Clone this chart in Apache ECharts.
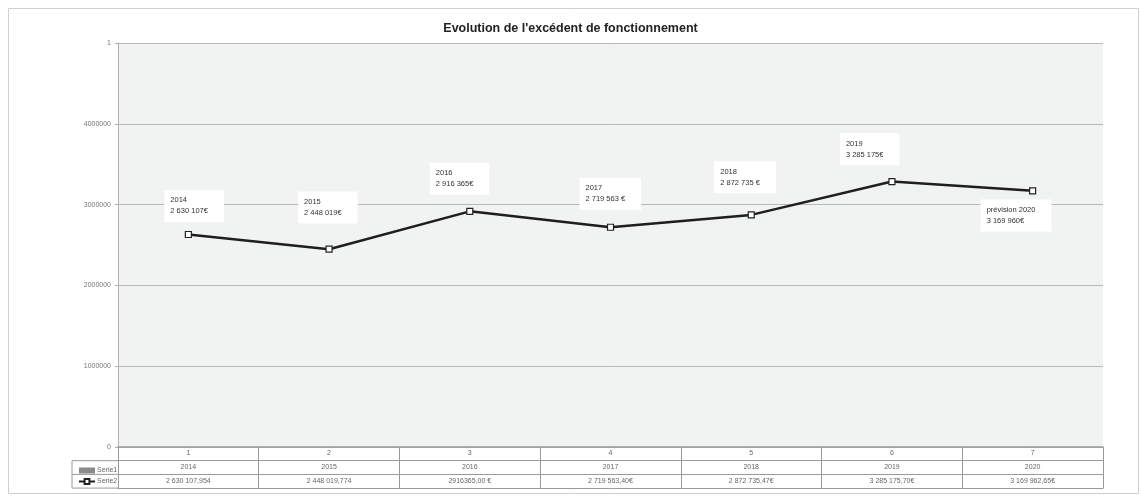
<!DOCTYPE html>
<html>
<head>
    <meta charset="utf-8">
    <title>Evolution de l'excédent de fonctionnement</title>
    <script src="https://cdn.jsdelivr.net/npm/echarts@6/dist/echarts.min.js"></script>
    <style>
        html, body { margin: 0; padding: 0; background: #fff; }
        #chart { width: 1141px; height: 498px; }
    </style>
</head>
<body>
<div id="chart"></div>
<script>
    // Données
    const categories = ['1', '2', '3', '4', '5', '6', '7'];
    const serie1 = [2014, 2015, 2016, 2017, 2018, 2019, 2020];
    const serie2 = [2630107.954, 2448019.774, 2916365.00, 2719563.40, 2872735.47, 3285175.70, 3169962.65];
    const serie2Table = ['2 630 107,954', '2 448 019,774', '2916365,00 €', '2 719 563,40€', '2 872 735,47€', '3 285 175,70€', '3 169 962,65€'];
    const pointLabels = [
        '2014\n2 630 107€',
        '2015\n2 448 019€',
        '2016\n2 916 365€',
        '2017\n2 719 563 €',
        '2018\n2 872 735 €',
        '2019\n3 285 175€',
        'prévision 2020\n3 169 960€'
    ];
    const yTickLabels = {0: '0', 1000000: '1000000', 2000000: '2000000', 3000000: '3000000', 4000000: '4000000', 5000000: '1'};

    const chart = echarts.init(document.getElementById('chart'));

    // placement des étiquettes (style)
    const labelPlace = [
        { position: 'top', offset: [-24, -9] },
        { position: 'top', offset: [-31, -22] },
        { position: 'top', offset: [-40, -13] },
        { position: 'top', offset: [-31, -14] },
        { position: 'top', offset: [-37, -18] },
        { position: 'top', offset: [-52, -13] },
        { position: 'bottom', offset: [-52, 5] }
    ];

    const font = 'Liberation Sans, Arial, sans-serif';
    const G = { left: 118, right: 38, top: 43, bottom: 51 };
    const rowH = 13.7;

    const tableAxis = (data, offset, showLabel) => ({
        type: 'category',
        data: data,
        position: 'bottom',
        offset: offset,
        axisLine: { show: true, lineStyle: { color: '#9a9a9a', width: 1 } },
        axisTick: { show: false },
        axisLabel: { show: showLabel, interval: 0, margin: 3, fontSize: 7, color: '#666', fontFamily: font },
        splitLine: { show: false }
    });

    const option = {
        animation: false,
        backgroundColor: '#ffffff',
        title: {
            text: "Evolution de l'excédent de fonctionnement",
            left: 'center',
            top: 17,
            textStyle: { fontSize: 12.5, fontWeight: 'bold', color: '#222', fontFamily: font }
        },
        legend: {
            orient: 'vertical',
            left: 73,
            top: 462,
            itemGap: 4,
            itemWidth: 16,
            itemHeight: 6,
            textStyle: { fontSize: 7, color: '#666', fontFamily: font, padding: [0, 0, 0, -3] },
            data: [
                { name: 'Serie1', icon: 'rect', itemStyle: { color: '#8a8a8a' } },
                { name: 'Serie2' }
            ]
        },
        grid: {
            left: G.left, right: G.right, top: G.top, bottom: G.bottom,
            show: true,
            backgroundColor: '#f1f2f2',
            borderWidth: 0
        },
        xAxis: [
            {
                type: 'category',
                data: categories,
                position: 'bottom',
                axisLine: { show: true, lineStyle: { color: '#9a9a9a', width: 1.5 } },
                axisTick: { show: true, interval: 0, length: rowH * 3, lineStyle: { color: '#9a9a9a' } },
                axisLabel: { interval: 0, margin: 3, fontSize: 7, color: '#666', fontFamily: font },
                splitLine: { show: false }
            },
            tableAxis(serie1.map(String), rowH, true),
            tableAxis(serie2Table, rowH * 2, true),
            tableAxis(categories, rowH * 3, false)
        ],
        yAxis: {
            type: 'value',
            min: 0,
            max: 5000000,
            interval: 1000000,
            axisLine: { show: true, lineStyle: { color: '#b0b0b0' } },
            axisTick: { show: true, length: 3, lineStyle: { color: '#b0b0b0' } },
            axisLabel: {
                fontSize: 7, color: '#777', margin: 7, fontFamily: font,
                formatter: v => yTickLabels[v] !== undefined ? yTickLabels[v] : ''
            },
            splitLine: { show: true, lineStyle: { color: '#b8b8b8', width: 1 } }
        },
        series: [
            {
                name: 'Serie1',
                type: 'bar',
                data: serie1,
                barWidth: 4,
                itemStyle: { color: '#8a8a8a' }
            },
            {
                name: 'Serie2',
                type: 'line',
                data: serie2.map((v, i) => ({
                    value: v,
                    label: {
                        position: labelPlace[i].position,
                        offset: labelPlace[i].offset,
                        verticalAlign: labelPlace[i].position === 'top' ? 'bottom' : 'top'
                    }
                })),
                symbol: 'rect',
                symbolSize: 6,
                itemStyle: { color: '#ffffff', borderColor: '#222', borderWidth: 1.2 },
                lineStyle: { color: '#1e1e1e', width: 2.5 },
                label: {
                    show: true,
                    distance: 0,
                    align: 'left',
                    formatter: p => pointLabels[p.dataIndex],
                    fontSize: 7.5,
                    lineHeight: 11,
                    color: '#333',
                    fontFamily: font,
                    backgroundColor: '#ffffff',
                    padding: [5, 16, 5, 6]
                }
            }
        ],
        graphic: [
            { type: 'rect', shape: { x: 8.5, y: 8.5, width: 1130, height: 485 }, style: { fill: 'none', stroke: '#d0d0d0', lineWidth: 1 }, silent: true },
            { type: 'line', shape: { x1: 72, y1: 447 + rowH, x2: G.left, y2: 447 + rowH }, style: { stroke: '#9a9a9a', lineWidth: 1 } },
            { type: 'line', shape: { x1: 72, y1: 447 + rowH * 2, x2: G.left, y2: 447 + rowH * 2 }, style: { stroke: '#9a9a9a', lineWidth: 1 } },
            { type: 'line', shape: { x1: 72, y1: 447 + rowH * 3, x2: G.left, y2: 447 + rowH * 3 }, style: { stroke: '#9a9a9a', lineWidth: 1 } },
            { type: 'line', shape: { x1: 72, y1: 447 + rowH, x2: 72, y2: 447 + rowH * 3 }, style: { stroke: '#9a9a9a', lineWidth: 1 } }
        ]
    };

    chart.setOption(option);
</script>
</body>
</html>
